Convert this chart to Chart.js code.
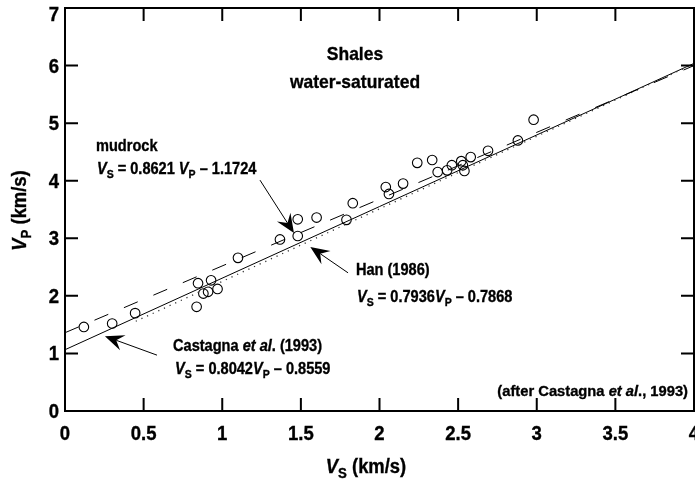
<!DOCTYPE html>
<html>
<head>
<meta charset="utf-8">
<script src="https://cdn.jsdelivr.net/npm/chart.js@4.4.1/dist/chart.umd.min.js"></script>
<style>
  html, body { margin: 0; padding: 0; background: #fff; }
</style>
</head>
<body>
<canvas id="chart" width="695" height="479"></canvas>
<script>
// Shale samples, water-saturated (km/s)
const vsData = [0.12, 0.30, 0.446, 0.837, 0.846, 0.88, 0.91, 0.929, 0.97, 1.10,
                1.367, 1.48, 1.48, 1.60, 1.79, 1.83, 2.04, 2.06, 2.15, 2.24,
                2.335, 2.37, 2.43, 2.46, 2.52, 2.53, 2.54, 2.58, 2.69, 2.88, 2.98];
const vpData = [1.46, 1.52, 1.70, 1.81, 2.22, 2.04, 2.07, 2.27, 2.12, 2.66,
                2.98, 3.04, 3.33, 3.36, 3.32, 3.61, 3.89, 3.77, 3.95, 4.31,
                4.36, 4.15, 4.18, 4.27, 4.34, 4.27, 4.17, 4.41, 4.52, 4.70, 5.06];

// Vs = slope * Vp + intercept
const relNames = ['mudrock', 'Han (1986)', 'Castagna et al. (1993)'];
const relSlopes = [0.8621, 0.7936, 0.8042];
const relIntercepts = [-1.1724, -0.7868, -0.8559];
const relVsFrom = [0, 0.45, 0];
const relVsTo = [4, 4, 4];

const xTickLabels = ['0', '0.5', '1', '1.5', '2', '2.5', '3', '3.5', '4'];
const yTickLabels = ['0', '1', '2', '3', '4', '5', '6', '7'];

// Arial-metric bold, squeezed horizontally to get a condensed look
const FONT = "'Liberation Sans', Arial, sans-serif";

function relLine(i) {
  const pts = [];
  [relVsFrom[i], relVsTo[i]].forEach(function (x) {
    pts.push({ x: x, y: (x - relIntercepts[i]) / relSlopes[i] });
  });
  return pts;
}

// text pieces: [text, style]  style: '' bold, 'i' bold italic, 's' subscript
const notes = [
  { x: 1.844, y: 6.22, align: 'center', size: 19, sx: 0.92, parts: [['Shales']] },
  { x: 1.844, y: 5.73, align: 'center', size: 19, sx: 0.92, parts: [['water-saturated']] },
  { x: 0.197, y: 4.62, size: 16.2, sx: 0.9, parts: [['mudrock']] },
  { x: 0.203, y: 4.22, size: 16.2, sx: 0.9, parts: [['V', 'i'], ['S', 's'], [' = 0.8621 '], ['V', 'i'], ['P', 's'], [' \u2013 1.1724']] },
  { x: 1.85, y: 2.47, size: 16.2, sx: 0.9, parts: [['Han (1986)']] },
  { x: 1.857, y: 2.0, size: 16.2, sx: 0.9, parts: [['V', 'i'], ['S', 's'], [' = 0.7936'], ['V', 'i'], ['P', 's'], [' \u2013 0.7868']] },
  { x: 0.687, y: 1.146, size: 16.2, sx: 0.9, parts: [['Castagna '], ['et al', 'i'], ['. (1993)']] },
  { x: 0.70, y: 0.75, size: 16.2, sx: 0.9, parts: [['V', 'i'], ['S', 's'], [' = 0.8042'], ['V', 'i'], ['P', 's'], [' \u2013 0.8559']] },
  { x: 3.962, y: 0.365, align: 'right', size: 15.5, sx: 0.95, parts: [['(after Castagna '], ['et al', 'i'], ['., 1993)']] }
];

// arrows: tail -> tip, in data units
const arrows = [
  { x0: 1.24, y0: 4.01, x1: 1.456, y1: 3.09 },
  { x0: 1.80, y0: 2.40, x1: 1.56, y1: 2.85 },
  { x0: 0.585, y0: 0.97, x1: 0.254, y1: 1.30 }
];

function partFont(style, size) {
  if (style === 's') return 'bold ' + (size * 0.72).toFixed(1) + 'px ' + FONT;
  if (style === 'i') return 'italic bold ' + size + 'px ' + FONT;
  return 'bold ' + size + 'px ' + FONT;
}

// draws mixed-style text; y is the vertical middle of the capitals
function drawRich(ctx, parts, x, y, size, align, sx) {
  sx = sx || 1;
  let total = 0;
  parts.forEach(function (p) {
    ctx.font = partFont(p[1] || '', size);
    total += ctx.measureText(p[0]).width;
  });
  ctx.save();
  ctx.translate(x, y + size * 0.358);
  ctx.scale(sx, 1);
  let cx = 0;
  if (align === 'center') cx = -total / 2;
  if (align === 'right') cx = -total;
  ctx.textAlign = 'left';
  ctx.textBaseline = 'alphabetic';
  ctx.lineWidth = 0.35;
  parts.forEach(function (p) {
    const st = p[1] || '';
    const ty = st === 's' ? size * 0.25 : 0;
    ctx.font = partFont(st, size);
    ctx.fillText(p[0], cx, ty);
    ctx.strokeText(p[0], cx, ty);   // a touch heavier, like the condensed black face
    cx += ctx.measureText(p[0]).width;
  });
  ctx.restore();
}

function drawArrow(ctx, x0, y0, x1, y1) {
  const ang = Math.atan2(y1 - y0, x1 - x0);
  const len = 19, half = 8, notch = 12;
  ctx.beginPath();
  ctx.moveTo(x0, y0);
  ctx.lineTo(x1 - Math.cos(ang) * notch, y1 - Math.sin(ang) * notch);
  ctx.lineWidth = 1;
  ctx.stroke();
  ctx.save();
  ctx.translate(x1, y1);
  ctx.rotate(ang);
  ctx.beginPath();
  ctx.moveTo(0, 0);
  ctx.lineTo(-len, -half);
  ctx.lineTo(-notch, 0);
  ctx.lineTo(-len, half);
  ctx.closePath();
  ctx.fill();
  ctx.restore();
}

const framePlugin = {
  id: 'frame',
  afterDatasetsDraw(chart) {
    const ctx = chart.ctx;
    const a = chart.chartArea;
    const xs = chart.scales.x, ys = chart.scales.y;
    ctx.save();
    ctx.strokeStyle = '#000';
    ctx.fillStyle = '#000';

    // box with inward ticks on all four sides
    ctx.lineWidth = 2;
    ctx.strokeRect(a.left, a.top, a.right - a.left, a.bottom - a.top);
    const tl = 13;
    ctx.beginPath();
    xs.ticks.forEach(function (t) {
      const px = xs.getPixelForValue(t.value);
      ctx.moveTo(px, a.bottom); ctx.lineTo(px, a.bottom - tl);
      ctx.moveTo(px, a.top); ctx.lineTo(px, a.top + tl);
    });
    ys.ticks.forEach(function (t) {
      const py = ys.getPixelForValue(t.value);
      ctx.moveTo(a.left, py); ctx.lineTo(a.left + tl, py);
      ctx.moveTo(a.right, py); ctx.lineTo(a.right - tl, py);
    });
    ctx.stroke();

    // tick labels
    xs.ticks.forEach(function (t, i) {
      drawRich(ctx, [[xTickLabels[i]]], xs.getPixelForValue(t.value), a.bottom + 22.5, 19.5, 'center', 0.95);
    });
    ys.ticks.forEach(function (t, i) {
      const py = Math.max(ys.getPixelForValue(t.value), a.top + 6);
      drawRich(ctx, [[yTickLabels[i]]], a.left - 6, py, 19.5, 'right', 0.95);
    });

    notes.forEach(function (n) {
      drawRich(ctx, n.parts, xs.getPixelForValue(n.x), ys.getPixelForValue(n.y), n.size, n.align, n.sx);
    });
    arrows.forEach(function (r) {
      drawArrow(ctx, xs.getPixelForValue(r.x0), ys.getPixelForValue(r.y0),
                xs.getPixelForValue(r.x1), ys.getPixelForValue(r.y1));
    });

    // axis titles
    drawRich(ctx, [['V', 'i'], ['S', 's'], [' (km/s)']], 366, 466, 20, 'center', 0.92);
    ctx.translate(19, (a.top + a.bottom) / 2 + 1);
    ctx.rotate(-Math.PI / 2);
    drawRich(ctx, [['V', 'i'], ['P', 's'], [' (km/s)']], 0, 0, 20, 'center', 0.92);
    ctx.restore();
  }
};

const lineStyles = [
  { color: '#000', dash: [15, 17], width: 1 },
  { color: '#333', dash: [1.2, 5], width: 1.3 },
  { color: '#000', dash: [], width: 1 }
];

const datasets = relNames.map(function (name, i) {
  return {
    label: name,
    data: relLine(i),
    showLine: true,
    borderColor: lineStyles[i].color,
    borderDash: lineStyles[i].dash,
    borderWidth: lineStyles[i].width,
    pointRadius: 0
  };
});
datasets.push({
  label: 'shales',
  data: vsData.map(function (x, i) { return { x: x, y: vpData[i] }; }),
  pointRadius: 4.8,
  pointBorderWidth: 1.1,
  pointBorderColor: '#000',
  pointBackgroundColor: 'rgba(0,0,0,0)'
});

new Chart(document.getElementById('chart'), {
  type: 'scatter',
  data: { datasets: datasets },
  options: {
    responsive: false,
    animation: false,
    devicePixelRatio: 1,
    layout: { autoPadding: false, padding: { top: 8, right: 1, left: 65, bottom: 68 } },
    plugins: { legend: { display: false }, tooltip: { enabled: false } },
    scales: {
      x: {
        type: 'linear', min: 0, max: 4,
        grid: { display: false, drawTicks: false },
        border: { display: false },
        ticks: { stepSize: 0.5, display: false }
      },
      y: {
        type: 'linear', min: 0, max: 7,
        grid: { display: false, drawTicks: false },
        border: { display: false },
        ticks: { stepSize: 1, display: false }
      }
    }
  },
  plugins: [framePlugin]
});
</script>
</body>
</html>
